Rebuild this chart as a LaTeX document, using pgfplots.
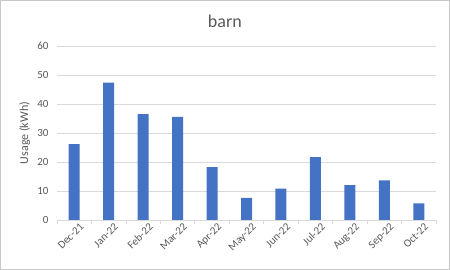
\documentclass[border=0pt]{standalone}
\usepackage{pgfplots}
\pgfplotsset{compat=1.18}
\usepackage{fontspec}
\setmainfont{Carlito}
\definecolor{barblue}{HTML}{4472C4}
\definecolor{txtgray}{HTML}{595959}
\definecolor{gridgray}{HTML}{D9D9D9}
\definecolor{framegray}{HTML}{C8C8C8}
\begin{document}
\begin{tikzpicture}[x=1pt,y=1pt]
\begin{axis}[
  at={(0pt,0pt)}, anchor=south west,
  scale only axis, width=379pt, height=174pt,
  xmin=-0.5, xmax=10.5, ymin=0, ymax=60,
  ytick={0,10,...,60},
  xtick={0,...,10},
  xticklabels={Dec-21,Jan-22,Feb-22,Mar-22,Apr-22,May-22,Jun-22,Jul-22,Aug-22,Sep-22,Oct-22},
  minor xtick={-0.5,0.5,...,10.5},
  major tick length=0pt,
  minor tick length=4pt,
  x tick style={draw=gridgray, line width=0.8pt},
  y tick style={draw=none},
  xtick align=outside,
  axis x line*=bottom,
  axis y line*=left,
  x axis line style={draw=gridgray, line width=0.8pt, -},
  y axis line style={draw=none},
  ymajorgrids, grid style={draw=gridgray, line width=0.8pt},
  minor grid style={draw=none},
  tick label style={font=\fontsize{11}{13}\selectfont, text=txtgray},
  xticklabel style={rotate=45, anchor=north east, inner sep=1pt, yshift=-4pt, xshift=3pt},
  yticklabel style={xshift=-5pt},
  /pgf/number format/assume math mode=true,
  ylabel={Usage (kWh)},
  every axis y label/.style={at={(axis description cs:-0.085,0.5)}, rotate=90, anchor=center,
     font=\fontsize{12}{14}\selectfont, text=txtgray},
  title={barn},
  every axis title/.style={at={(axis description cs:0.443,1)}, anchor=center, yshift=24.5pt,
     font=\fontsize{18}{20}\selectfont, text=txtgray},
]
\addplot[ybar, bar width=11pt, fill=barblue, draw=none] coordinates {
(0,26.2) (1,47.4) (2,36.5) (3,35.6) (4,18.2) (5,7.6) (6,10.8) (7,21.7) (8,12.0) (9,13.7) (10,5.7)};
\end{axis}
\draw[framegray, line width=1pt] (-56.2pt,-49.2pt) rectangle (392.2pt,219.2pt);
\useasboundingbox (-57pt,-50pt) rectangle (393pt,220pt);
\end{tikzpicture}
\end{document}
